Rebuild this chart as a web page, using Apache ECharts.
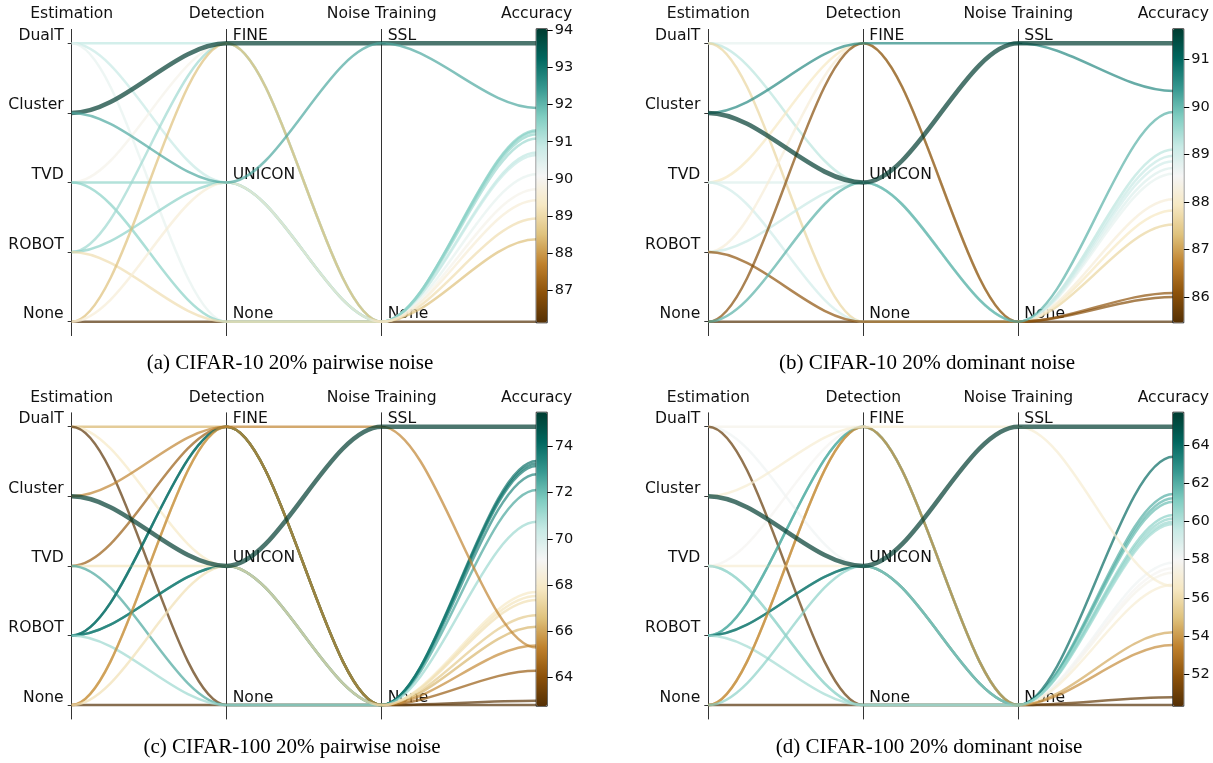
<!DOCTYPE html>
<html>
<head>
<meta charset="utf-8">
<script src="https://cdn.jsdelivr.net/npm/echarts@6/dist/echarts.min.js"></script>
<style>
  html, body { margin: 0; padding: 0; background: #fff; }
  #chart { width: 1213px; height: 763px; }
</style>
</head>
<body>
<div id="chart"></div>
<script>
var estimation = ['DualT', 'Cluster', 'TVD', 'ROBOT', 'None'];
var detection = ['FINE', 'UNICON', 'None'];
var noiseTraining = ['SSL', 'None'];
var axisNames = ['Estimation', 'Detection', 'Noise Training', 'Accuracy'];

// pipelines shared by the four plots, in drawing order
var runEst   = ['None', 'DualT', 'DualT', 'DualT', 'TVD', 'TVD', 'TVD', 'ROBOT', 'ROBOT', 'ROBOT', 'None', 'None', 'Cluster', 'Cluster'];
var runDet   = ['None', 'FINE', 'UNICON', 'None', 'FINE', 'UNICON', 'None', 'FINE', 'UNICON', 'None', 'FINE', 'UNICON', 'FINE', 'UNICON'];
var runNoise = ['None', 'None', 'None', 'None', 'None', 'None', 'None', 'None', 'None', 'None', 'None', 'None', 'SSL', 'SSL'];

// accuracy of each pipeline above
var accC10Pair  = [86.13, 90.95, 90.88, 90.33, 89.90, 91.47, 91.58, 91.35, 91.55, 89.07, 88.48, 89.59, 94.06, 92.22];
var accC10Dom   = [85.47, 88.76, 89.30, 87.63, 87.94, 88.89, 89.04, 88.19, 89.16, 86.11, 86.02, 90.13, 90.60, 91.66];
var accC100Pair = [62.77, 66.35, 67.94, 62.97, 64.34, 67.76, 72.61, 73.94, 73.71, 71.16, 65.50, 67.58, 65.40, 75.51];
var accC100Dom  = [50.35, 57.67, 58.22, 50.78, 57.91, 57.00, 60.49, 62.02, 64.08, 60.36, 53.67, 60.86, 56.93, 65.74];

// extra runs only seen in the CIFAR-100 plots: [estimation, detection, noise training, accuracy]
var extraC100Pair = [['ROBOT', 'FINE', 'None', 73.83], ['ROBOT', 'UNICON', 'None', 73.34], ['None', 'FINE', 'None', 66.88]];
var extraC100Dom  = [['None', 'FINE', 'None', 54.37], ['ROBOT', 'FINE', 'None', 61.78], ['ROBOT', 'UNICON', 'None', 61.59], ['TVD', 'None', 'None', 60.67]];

// colorbar tick labels
var ticksC10Pair  = [87, 88, 89, 90, 91, 92, 93, 94];
var ticksC10Dom   = [86, 87, 88, 89, 90, 91];
var ticksC100Pair = [64, 66, 68, 70, 72, 74];
var ticksC100Dom  = [52, 54, 56, 58, 60, 62, 64];

var captions = ['(a) CIFAR-10 20% pairwise noise', '(b) CIFAR-10 20% dominant noise',
                '(c) CIFAR-100 20% pairwise noise', '(d) CIFAR-100 20% dominant noise'];

var panels = [
  { acc: accC10Pair,  extra: [],            ticks: ticksC10Pair },
  { acc: accC10Dom,   extra: [],            ticks: ticksC10Dom },
  { acc: accC100Pair, extra: extraC100Pair, ticks: ticksC100Pair },
  { acc: accC100Dom,  extra: extraC100Dom,  ticks: ticksC100Dom }
];

// layout
var gridLeft = [71.7, 708.3, 71.7, 708.3];
var gridTop = [29.4, 29.4, 412.8, 412.8];
var GRID_W = 465, GRID_H = 306.2;
var BAR_OFF = -1.1, BAR_H = 294, BAR_W = 11;
var capX = [290, 927, 292, 929];
var capY = [353, 353, 737, 737];

// matplotlib BrBG
var BRBG = ['#543005', '#8c510a', '#bf812d', '#dfc27d', '#f6e8c3', '#f5f5f5',
            '#c7eae5', '#80cdc1', '#35978f', '#01665e', '#003c30'];

var textColor = '#111';
var grids = [], xAxes = [], yAxes = [], series = [], visualMaps = [], titles = [];

function catAxis(p, names, offsetPx, inside) {
  var n = names.length, pad = 0.05 * (n - 1);
  var idx = names.map(function (d, i) { return i; });
  return {
    gridIndex: p, type: 'value', position: 'left', offset: -offsetPx, inverse: true,
    min: -pad, max: n - 1 + pad,
    axisLine: { show: true, onZero: false, lineStyle: { color: '#333', width: 1 } },
    axisTick: { show: true, inside: inside, length: 4, customValues: idx, lineStyle: { color: '#333' } },
    axisLabel: {
      inside: inside, margin: inside ? 6 : 8, customValues: idx,
      formatter: function (v) { return names[Math.round(v)]; },
      verticalAlign: 'bottom', lineHeight: 15, fontSize: 15.6, color: textColor
    },
    splitLine: { show: false }
  };
}

// bezier curves with flat tangents at every axis, control points at 1/3 of the gap
function makeRender(vmax) {
  return function (params, api) {
    var pts = [0, 1, 2, 3].map(function (k) { return api.coord([k, api.value(k)]); });
    var best = api.value(4) === vmax;
    var color = api.visual('color');
    var children = [];
    for (var k = 0; k < 3; k++) {
      var a = pts[k], b = pts[k + 1], dx = (b[0] - a[0]) / 3;
      children.push({
        type: 'bezierCurve',
        shape: { x1: a[0], y1: a[1], x2: b[0], y2: b[1], cpx1: a[0] + dx, cpy1: a[1], cpx2: b[0] - dx, cpy2: b[1] },
        style: { stroke: color, fill: null, lineWidth: best ? 4.5 : 2.5, opacity: 0.7 },
        silent: true
      });
    }
    return { type: 'group', children: children };
  };
}

panels.forEach(function (pan, p) {
  var spacing = GRID_W / 3;
  grids.push({ left: gridLeft[p], top: gridTop[p], width: GRID_W, height: GRID_H, outerBoundsMode: 'none' });

  xAxes.push({
    gridIndex: p, type: 'value', position: 'top', min: 0, max: 3,
    axisLine: { show: false, onZero: false }, axisTick: { show: false }, splitLine: { show: false },
    axisLabel: {
      customValues: [0, 1, 2, 3], margin: 7, fontSize: 15.6, color: textColor,
      formatter: function (v) { return axisNames[Math.round(v)]; }
    }
  });

  var rows = pan.extra.slice();
  for (var i = 0; i < runEst.length; i++) rows.push([runEst[i], runDet[i], runNoise[i], pan.acc[i]]);
  var accAll = rows.map(function (r) { return r[3]; });
  var vmin = Math.min.apply(null, accAll), vmax = Math.max.apply(null, accAll);

  // colorbar axis: its scale follows the colorbar, not the line ends
  var ppu = BAR_H / (vmax - vmin);
  var axMax = vmax + BAR_OFF / ppu;
  var axMin = vmin - (GRID_H - (BAR_OFF + BAR_H)) / ppu;

  yAxes.push(catAxis(p, estimation, 0, false));
  yAxes.push(catAxis(p, detection, spacing, true));
  yAxes.push(catAxis(p, noiseTraining, spacing * 2, true));
  yAxes.push({
    gridIndex: p, type: 'value', position: 'right', min: axMin, max: axMax,
    axisLine: { show: false, onZero: false }, splitLine: { show: false },
    axisTick: { show: true, length: 16, customValues: pan.ticks, lineStyle: { color: '#000' } },
    axisLabel: { customValues: pan.ticks, margin: 18, fontSize: 14.5, color: textColor }
  });

  // every axis is scaled into the Estimation axis units (parallel-coordinates style)
  var top = estimation.length - 1;
  var data = rows.map(function (r) {
    return [
      estimation.indexOf(r[0]),
      detection.indexOf(r[1]) * top / (detection.length - 1),
      noiseTraining.indexOf(r[2]) * top / (noiseTraining.length - 1),
      (vmax - r[3]) / (vmax - vmin) * top,
      r[3]
    ];
  });

  series.push({
    type: 'custom', xAxisIndex: p, yAxisIndex: p * 4, data: data,
    encode: { x: 0, y: 1 }, renderItem: makeRender(vmax),
    silent: true, clip: false, z: 2
  });

  visualMaps.push({
    type: 'continuous', min: vmin, max: vmax, calculable: false, hoverLink: false,
    seriesIndex: p, dimension: 4, orient: 'vertical',
    left: gridLeft[p] + GRID_W - 1, top: gridTop[p] + BAR_OFF,
    itemWidth: BAR_W, itemHeight: BAR_H, padding: 0,
    borderColor: '#222', borderWidth: 1, z: 10,
    inRange: { color: BRBG }
  });

  titles.push({
    text: captions[p], left: capX[p], top: capY[p], textAlign: 'center', padding: 0,
    textStyle: { fontFamily: 'Liberation Serif', fontSize: 21, fontWeight: 'normal', color: '#000' }
  });
});

var myChart = echarts.init(document.getElementById('chart'));
myChart.setOption({
  animation: false,
  backgroundColor: '#fff',
  textStyle: { fontFamily: 'DejaVu Sans' },
  title: titles,
  grid: grids,
  xAxis: xAxes,
  yAxis: yAxes,
  visualMap: visualMaps,
  series: series
});
</script>
</body>
</html>
